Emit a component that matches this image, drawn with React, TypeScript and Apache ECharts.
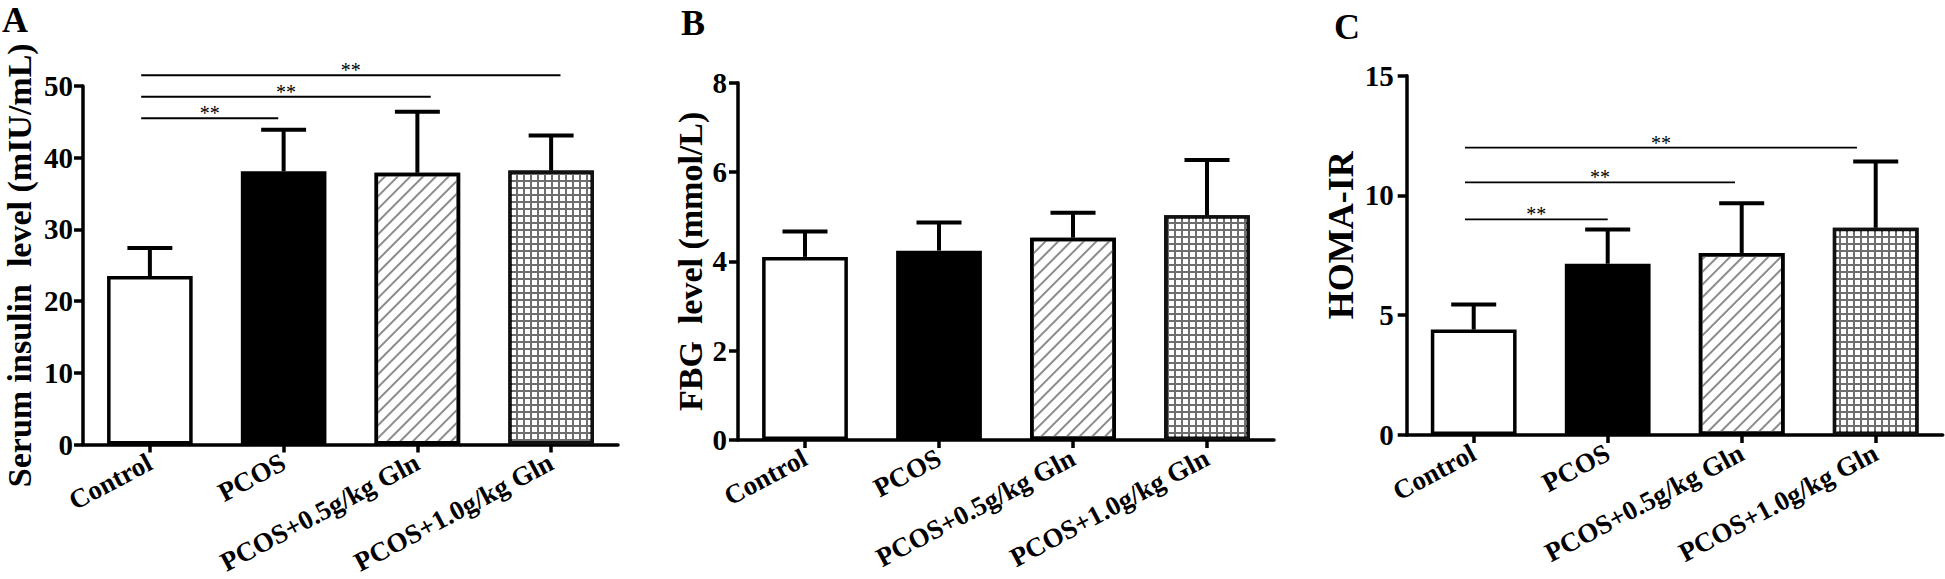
import React, { useEffect, useRef } from "react";
import * as echarts from "echarts";

// ---------- data ----------
const categories = ["Control", "PCOS", "PCOS+0.5g/kg Gln", "PCOS+1.0g/kg Gln"];

const insulinMean = [23.5, 38.1, 37.9, 38.2];
const insulinUpper = [27.4, 43.9, 46.4, 43.1];
const insulinAxis = { min: 0, max: 50, interval: 10 };
const insulinCompare = [[0, 1], [0, 2], [0, 3]];
const insulinSigLevel = [45.5, 48.5, 51.5];
const insulinSigLabel = ["**", "**", "**"];

const fbgMean = [4.1, 4.24, 4.53, 5.03];
const fbgUpper = [4.67, 4.87, 5.09, 6.27];
const fbgAxis = { min: 0, max: 8, interval: 2 };

const homaMean = [4.4, 7.15, 7.6, 8.65];
const homaUpper = [5.45, 8.58, 9.68, 11.42];
const homaAxis = { min: 0, max: 15, interval: 5 };
const homaCompare = [[0, 1], [0, 2], [0, 3]];
const homaSigLevel = [9.0, 10.55, 12.0];
const homaSigLabel = ["**", "**", "**"];

const panelTitles = ["A", "B", "C"];
const yNames = ["Serum insulin  level (mIU/mL)", "FBG  level (mmol/L)", "HOMA-IR"];

// ---------- styles ----------
const FONT = '"Liberation Serif", "Times New Roman", serif';
const AXW = 3.5;
const sigStartOffset = -0.065;
const insulinSigEndOffset = [-0.04, 0.1, 0.07];
const homaSigEndOffset = [0.0, -0.05, -0.14];

const barStyles: any[] = [
  { color: "#ffffff", borderColor: "#000", borderWidth: AXW },
  { color: "#000000", borderColor: "#000", borderWidth: AXW },
  {
    color: "#ffffff",
    borderColor: "#000",
    borderWidth: AXW,
    decal: {
      symbol: "rect",
      symbolSize: 1,
      color: "#8c8c8c",
      dashArrayX: [1, 0],
      dashArrayY: [2, 7],
      rotation: -Math.PI / 4,
    },
  },
  {
    color: "#6e6e6e",
    borderColor: "#111",
    borderWidth: AXW,
    decal: {
      symbol: "rect",
      symbolSize: 1,
      color: "#ffffff",
      dashArrayX: [5, 2],
      dashArrayY: [5, 2],
      rotation: 0,
    },
  },
];

const grids = [
  { left: 83, top: 86, width: 535, height: 358.5 },
  { left: 738, top: 82.7, width: 536, height: 357.3 },
  { left: 1406.7, top: 75.7, width: 536, height: 359.3 },
];
const nameGaps = [47, 31, 48];
const nameSizes = [34, 34, 36];
const namePadding = [
  [0, 0, 0, 0],
  [0, 0, 0, 0],
  [0, 0, 0, 40],
];
const labelMargins = [10, 11, 13];
const titlePos = [
  { x: 2, y: 2 },
  { x: 681, y: 5 },
  { x: 1334, y: 9 },
];

function errorBarSeries(idx: number, mean: number[], upper: number[]) {
  return {
    type: "custom",
    xAxisIndex: idx,
    yAxisIndex: idx,
    z: 5,
    data: categories.map((_, i) => [i, mean[i], upper[i]]),
    encode: { x: 0, y: [1, 2] },
    renderItem: (params: any, api: any) => {
      const i = api.value(0);
      const m = api.value(1);
      const u = api.value(2);
      const p0 = api.coord([i, m]);
      const p1 = api.coord([i, u]);
      const hw = api.size([1, 0])[0] * 0.168;
      return {
        type: "group",
        children: [
          {
            type: "line",
            shape: { x1: p0[0], y1: p0[1], x2: p1[0], y2: p1[1] },
            style: { stroke: "#000", lineWidth: 4 },
          },
          {
            type: "line",
            shape: { x1: p1[0] - hw, y1: p1[1], x2: p1[0] + hw, y2: p1[1] },
            style: { stroke: "#000", lineWidth: 4 },
          },
        ],
      };
    },
  };
}

function sigSeries(idx: number, compare: number[][], level: number[], label: string[], endOff: number[]) {
  return {
    type: "custom",
    xAxisIndex: idx,
    yAxisIndex: idx,
    z: 6,
    data: compare.map((c, k) => [c[0], c[1], level[k], k]),
    encode: { x: [0, 1], y: 2 },
    renderItem: (params: any, api: any) => {
      const a = api.value(0);
      const b = api.value(1);
      const lv = api.value(2);
      const k = api.value(3);
      const bw = api.size([1, 0])[0];
      const pa = api.coord([a, lv]);
      const pb = api.coord([b, lv]);
      const x1 = pa[0] + sigStartOffset * bw;
      const x2 = pb[0] + endOff[k] * bw;
      return {
        type: "group",
        children: [
          {
            type: "line",
            shape: { x1, y1: pa[1], x2, y2: pa[1] },
            style: { stroke: "#000", lineWidth: 1.8 },
          },
          {
            type: "text",
            x: (x1 + x2) / 2,
            y: pa[1] + 5,
            style: {
              text: label[k],
              fill: "#000",
              font: `20px ${FONT}`,
              align: "center",
              verticalAlign: "bottom",
            },
          },
        ],
      };
    },
  };
}

export default function App() {
  const ref = useRef<HTMLDivElement>(null);
  useEffect(() => {
    if (!ref.current) return;
    const chart = echarts.init(ref.current, undefined, { renderer: "svg" });
    const axesY = [insulinAxis, fbgAxis, homaAxis];
    const means = [insulinMean, fbgMean, homaMean];
    const uppers = [insulinUpper, fbgUpper, homaUpper];

    const option: any = {
      animation: false,
      backgroundColor: "#ffffff",
      grid: grids.map((g) => ({ ...g, containLabel: false, outerBoundsMode: "none" })),
      xAxis: grids.map((_, i) => ({
        type: "category",
        gridIndex: i,
        data: categories,
        boundaryGap: true,
        axisLine: { show: true, lineStyle: { color: "#000", width: AXW } },
        axisTick: { show: true, alignWithLabel: true, length: 8, lineStyle: { color: "#000", width: AXW } },
        axisLabel: {
          interval: 0,
          rotate: 28,
          margin: 16,
          color: "#000",
          fontSize: 27,
          fontWeight: "bold",
          fontFamily: FONT,
        },
        splitLine: { show: false },
      })),
      yAxis: axesY.map((ax, i) => ({
        type: "value",
        gridIndex: i,
        min: ax.min,
        max: ax.max,
        interval: ax.interval,
        name: yNames[i],
        nameLocation: "middle",
        nameRotate: 90,
        nameGap: nameGaps[i],
        nameTextStyle: {
          color: "#000",
          fontSize: nameSizes[i],
          fontWeight: "bold",
          fontFamily: FONT,
          padding: namePadding[i],
        },
        axisLine: { show: true, lineStyle: { color: "#000", width: AXW } },
        axisTick: { show: true, length: 9, lineStyle: { color: "#000", width: AXW } },
        axisLabel: {
          margin: labelMargins[i],
          color: "#000",
          fontSize: 29,
          fontWeight: "bold",
          fontFamily: FONT,
        },
        splitLine: { show: false },
      })),
      graphic: panelTitles.map((t, i) => ({
        type: "text",
        x: titlePos[i].x,
        y: titlePos[i].y,
        style: {
          text: t,
          fill: "#000",
          font: `bold 36px ${FONT}`,
          verticalAlign: "top",
        },
      })),
      series: [
        ...[0, 1, 2].map((i) => ({
          type: "bar",
          xAxisIndex: i,
          yAxisIndex: i,
          barWidth: "64%",
          z: 2,
          data: means[i].map((v, k) => ({ value: v, itemStyle: barStyles[k] })),
        })),
        ...[0, 1, 2].map((i) => errorBarSeries(i, means[i], uppers[i])),
        sigSeries(0, insulinCompare, insulinSigLevel, insulinSigLabel, insulinSigEndOffset),
        sigSeries(2, homaCompare, homaSigLevel, homaSigLabel, homaSigEndOffset),
      ],
    };
    chart.setOption(option);
    return () => chart.dispose();
  }, []);
  return (
    <div
      ref={ref}
      style={{ position: "fixed", left: 0, top: 0, width: 1945, height: 579, background: "#fff" }}
    />
  );
}
